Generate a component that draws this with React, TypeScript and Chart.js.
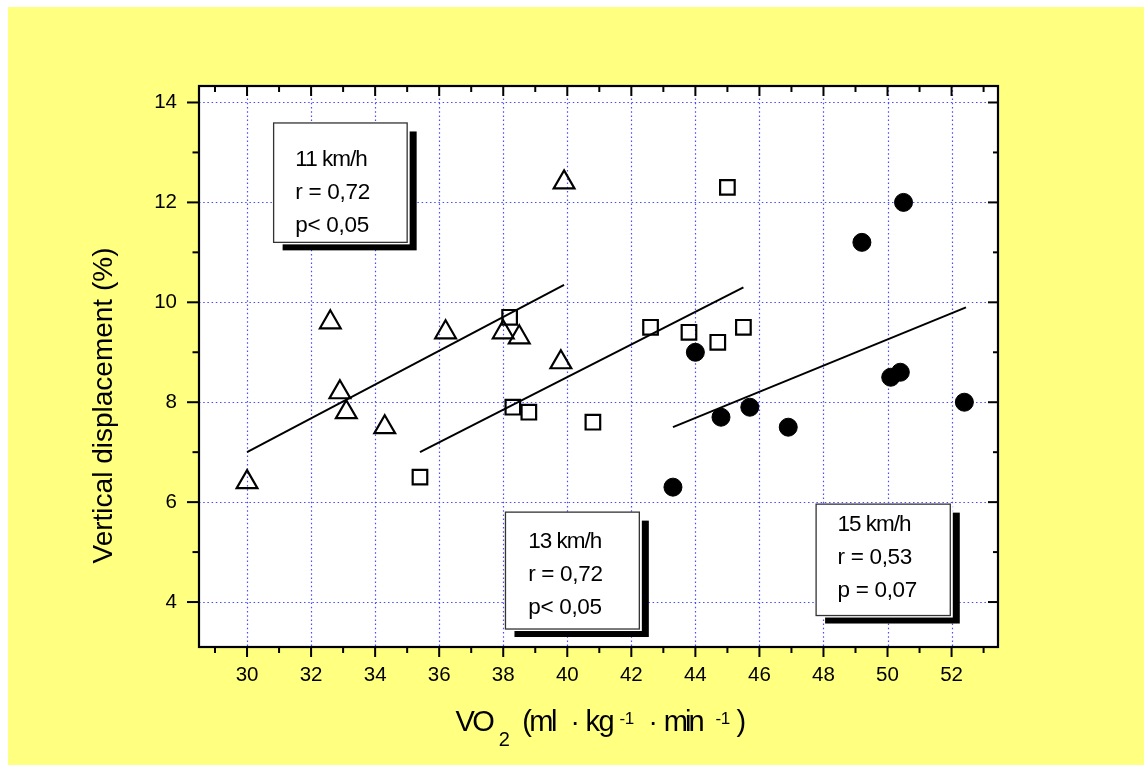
import React, { useEffect, useRef } from "react";
import { Chart, registerables } from "chart.js";

Chart.register(...registerables);

// ---------- data ----------
const X_MIN = 28.5;
const X_MAX = 53.45;
const Y_MIN = 3.1;
const Y_MAX = 14.33;
const X_TICKS = [30, 32, 34, 36, 38, 40, 42, 44, 46, 48, 50, 52];
const X_MINOR = [29, 31, 33, 35, 37, 39, 41, 43, 45, 47, 49, 51, 53];
const Y_TICKS = [4, 6, 8, 10, 12, 14];
const Y_MINOR = [5, 7, 9, 11, 13];

// 11 km/h (triangles)
const VO2_11 = [30.0, 32.6, 32.9, 33.1, 34.3, 36.2, 38.0, 38.5, 39.8, 39.9];
const DISP_11 = [6.4, 9.6, 8.2, 7.8, 7.5, 9.4, 9.4, 9.3, 8.8, 12.4];
// 13 km/h (squares)
const VO2_13 = [35.4, 38.2, 38.3, 38.8, 40.8, 42.6, 43.8, 44.7, 45.5, 45.0];
const DISP_13 = [6.5, 9.7, 7.9, 7.8, 7.6, 9.5, 9.4, 9.2, 9.5, 12.3];
// 15 km/h (filled circles)
const VO2_15 = [43.3, 44.0, 44.8, 45.7, 46.9, 49.2, 50.1, 50.4, 50.5, 52.4];
const DISP_15 = [6.3, 9.0, 7.7, 7.9, 7.5, 11.2, 8.5, 8.6, 12.0, 8.0];

// regression lines (end points)
const FIT_11_X = [30.0, 39.9];
const FIT_11_Y = [7.0, 10.35];
const FIT_13_X = [35.4, 45.5];
const FIT_13_Y = [7.0, 10.3];
const FIT_15_X = [43.3, 52.45];
const FIT_15_Y = [7.5, 9.9];

// annotation texts
const TEXT_11 = ["11 km/h", "r = 0,72", "p< 0,05"];
const TEXT_13 = ["13 km/h", "r = 0,72", "p< 0,05"];
const TEXT_15 = ["15 km/h", "r = 0,53", "p = 0,07"];

const Y_TITLE = "Vertical displacement (%)";

// ---------- styles / placement ----------
const FONT = "'Liberation Sans', Arial, Helvetica, sans-serif";
const BLUE = "#4a4aff";
const YELLOW = "#ffff80";

const BOXES = [
  { x0: 30.83, x1: 35.0, y0: 13.59, y1: 11.2, dx: 21.7, dy: 43.4, lines: TEXT_11 },
  { x0: 38.07, x1: 42.25, y0: 5.8, y1: 3.46, dx: 22.7, dy: 36, lines: TEXT_13 },
  { x0: 47.77, x1: 51.96, y0: 5.96, y1: 3.73, dx: 21.4, dy: 26.7, lines: TEXT_15 },
];

const pts = (xs: number[], ys: number[]) => xs.map((x, i) => ({ x, y: ys[i] }));

const decor = {
  id: "decor",
  beforeDraw(chart: any) {
    const { ctx, chartArea: a } = chart;
    ctx.save();
    ctx.fillStyle = YELLOW;
    ctx.fillRect(8, 7, chart.width - 8, chart.height - 7);
    ctx.fillStyle = "#ffffff";
    ctx.fillRect(a.left, a.top, a.right - a.left, a.bottom - a.top);
    ctx.restore();
  },
  beforeDatasetsDraw(chart: any) {
    const { ctx, chartArea: a } = chart;
    const xs = chart.scales.x;
    const ys = chart.scales.y;
    ctx.save();
    // dotted grid
    ctx.strokeStyle = BLUE;
    ctx.lineWidth = 1.2;
    ctx.setLineDash([1.5, 2.7]);
    for (const v of X_TICKS) {
      const px = Math.round(xs.getPixelForValue(v)) + 0.5;
      ctx.beginPath();
      ctx.moveTo(px, a.top);
      ctx.lineTo(px, a.bottom);
      ctx.stroke();
    }
    for (const v of Y_TICKS) {
      const py = Math.round(ys.getPixelForValue(v)) + 0.5;
      ctx.beginPath();
      ctx.moveTo(a.left, py);
      ctx.lineTo(a.right, py);
      ctx.stroke();
    }
    ctx.setLineDash([]);
    // annotation boxes with shadow
    for (const b of BOXES) {
      const L = xs.getPixelForValue(b.x0);
      const R = xs.getPixelForValue(b.x1);
      const T = ys.getPixelForValue(b.y0);
      const B = ys.getPixelForValue(b.y1);
      ctx.fillStyle = "#000";
      ctx.fillRect(L + 9, T + 8.5, R + 9.5 - (L + 9), B + 8 - (T + 8.5));
      ctx.fillStyle = "#fff";
      ctx.fillRect(L, T, R + 2.5 - L, B + 2 - T);
      ctx.strokeStyle = "#333";
      ctx.lineWidth = 1.3;
      ctx.strokeRect(L, T, R - L, B - T);
      ctx.fillStyle = "#000";
      ctx.font = `22.5px ${FONT}`;
      ctx.textAlign = "left";
      ctx.textBaseline = "alphabetic";
      b.lines.forEach((t: string, i: number) => {
        (ctx as any).letterSpacing = i === 0 ? "-1px" : "-0.3px";
        ctx.fillText(t, L + b.dx, T + b.dy + i * 33);
      });
      (ctx as any).letterSpacing = "0px";
    }
    ctx.restore();
  },
  afterDatasetsDraw(chart: any) {
    const { ctx, chartArea: a } = chart;
    const xs = chart.scales.x;
    const ys = chart.scales.y;
    ctx.save();
    ctx.strokeStyle = "#000";
    ctx.lineWidth = 2;
    const seg = (x1: number, y1: number, x2: number, y2: number) => {
      ctx.beginPath();
      ctx.moveTo(x1, y1);
      ctx.lineTo(x2, y2);
      ctx.stroke();
    };
    for (const v of X_TICKS) {
      const px = xs.getPixelForValue(v);
      seg(px, a.bottom, px, a.bottom + 10);
      seg(px, a.top, px, a.top + 10);
    }
    for (const v of X_MINOR) {
      const px = xs.getPixelForValue(v);
      seg(px, a.bottom, px, a.bottom + 6);
      seg(px, a.top, px, a.top + 6);
    }
    for (const v of Y_TICKS) {
      const py = ys.getPixelForValue(v);
      seg(a.left - 12, py, a.left, py);
      seg(a.right - 10, py, a.right, py);
    }
    for (const v of Y_MINOR) {
      const py = ys.getPixelForValue(v);
      seg(a.left - 6.5, py, a.left, py);
      seg(a.right - 5, py, a.right, py);
    }
    ctx.lineWidth = 2.2;
    ctx.strokeRect(a.left, a.top, a.right - a.left, a.bottom - a.top);
    ctx.restore();
  },
  afterDraw(chart: any) {
    const { ctx, chartArea: a } = chart;
    ctx.save();
    ctx.fillStyle = "#000";
    // y title
    ctx.save();
    ctx.translate(a.left - 87.3, (a.top + a.bottom) / 2 + 39);
    ctx.rotate(-Math.PI / 2);
    ctx.font = `28px ${FONT}`;
    ctx.textAlign = "center";
    ctx.textBaseline = "alphabetic";
    ctx.fillText(Y_TITLE, 0, 0);
    ctx.restore();
    // x title: VO2 (ml · kg-1 · min-1)
    const cx = (a.left + a.right) / 2;
    const base = a.bottom + 84;
    const pieces: [string, number, number, number, number][] = [
      ["VO", -143, 0, 29, -2.5],
      ["2", -99.7, 15, 20, 0],
      ["(ml", -76.3, 0, 29, -2.5],
      ["·", -28, 0, 28, 0],
      ["kg", -13, 0, 29, -1.5],
      ["-1", 21, -7, 17, -0.5],
      ["·", 50, 0, 28, 0],
      ["min", 65.3, 0, 29, -3],
      ["-1", 117, -7, 17, -0.5],
      [")", 138, 0, 29, 0],
    ];
    ctx.textAlign = "left";
    ctx.textBaseline = "alphabetic";
    for (const [t, dx, dy, size, sp] of pieces) {
      ctx.font = `${size}px ${FONT}`;
      (ctx as any).letterSpacing = `${sp}px`;
      ctx.fillText(t, cx + dx, base + dy);
    }
    (ctx as any).letterSpacing = "0px";
    ctx.restore();
  },
};

export default function App() {
  const ref = useRef<HTMLCanvasElement | null>(null);
  useEffect(() => {
    if (!ref.current) return;
    const fit = (xs: number[], ys: number[], label: string) => ({
      label,
      data: pts(xs, ys),
      showLine: true,
      borderColor: "#000",
      borderWidth: 2,
      pointRadius: 0,
      fill: false,
    });
    const chart = new Chart(ref.current, {
      type: "scatter",
      data: {
        datasets: [
          fit(FIT_11_X, FIT_11_Y, "fit 11") as any,
          fit(FIT_13_X, FIT_13_Y, "fit 13"),
          fit(FIT_15_X, FIT_15_Y, "fit 15"),
          {
            label: "11 km/h",
            data: pts(VO2_11, DISP_11),
            pointStyle: "triangle",
            pointRadius: 12,
            pointBorderWidth: 2.2,
            borderColor: "#000",
            backgroundColor: "rgba(0,0,0,0)",
          },
          {
            label: "13 km/h",
            data: pts(VO2_13, DISP_13),
            pointStyle: "rect",
            pointRadius: 10.3,
            pointBorderWidth: 2.2,
            borderColor: "#000",
            backgroundColor: "rgba(0,0,0,0)",
          },
          {
            label: "15 km/h",
            data: pts(VO2_15, DISP_15),
            pointStyle: "circle",
            pointRadius: 9,
            pointBorderWidth: 1,
            borderColor: "#000",
            backgroundColor: "#000",
          },
        ],
      },
      options: {
        responsive: false,
        animation: false,
        devicePixelRatio: 1,
        layout: { padding: { left: 0, top: 86, right: 146, bottom: 0 } },
        plugins: {
          legend: { display: false },
          tooltip: { enabled: false },
          title: { display: false },
        },
        scales: {
          x: {
            type: "linear",
            position: "bottom",
            min: X_MIN,
            max: X_MAX,
            afterBuildTicks: (s: any) => {
              s.ticks = X_TICKS.map((v) => ({ value: v }));
            },
            afterFit: (s: any) => {
              s.height = 118;
            },
            grid: { display: false, drawTicks: false },
            border: { display: false },
            ticks: {
              color: "#000",
              font: { family: FONT, size: 20.5 },
              padding: 16,
              maxRotation: 0,
              autoSkip: false,
              callback: (v: any) => String(v),
            },
          },
          y: {
            type: "linear",
            position: "left",
            min: Y_MIN,
            max: Y_MAX,
            afterBuildTicks: (s: any) => {
              s.ticks = Y_TICKS.map((v) => ({ value: v }));
            },
            afterFit: (s: any) => {
              s.width = 199;
            },
            grid: { display: false, drawTicks: false },
            border: { display: false },
            ticks: {
              color: "#000",
              font: { family: FONT, size: 20.5 },
              padding: 22,
              autoSkip: false,
              callback: (v: any) => String(v),
            },
          },
        },
      },
      plugins: [decor],
    });
    return () => chart.destroy();
  }, []);
  return (
    <div style={{ position: "absolute", left: 0, top: 0, width: 1144, height: 765 }}>
      <canvas ref={ref} width={1144} height={765} style={{ display: "block" }} />
    </div>
  );
}
